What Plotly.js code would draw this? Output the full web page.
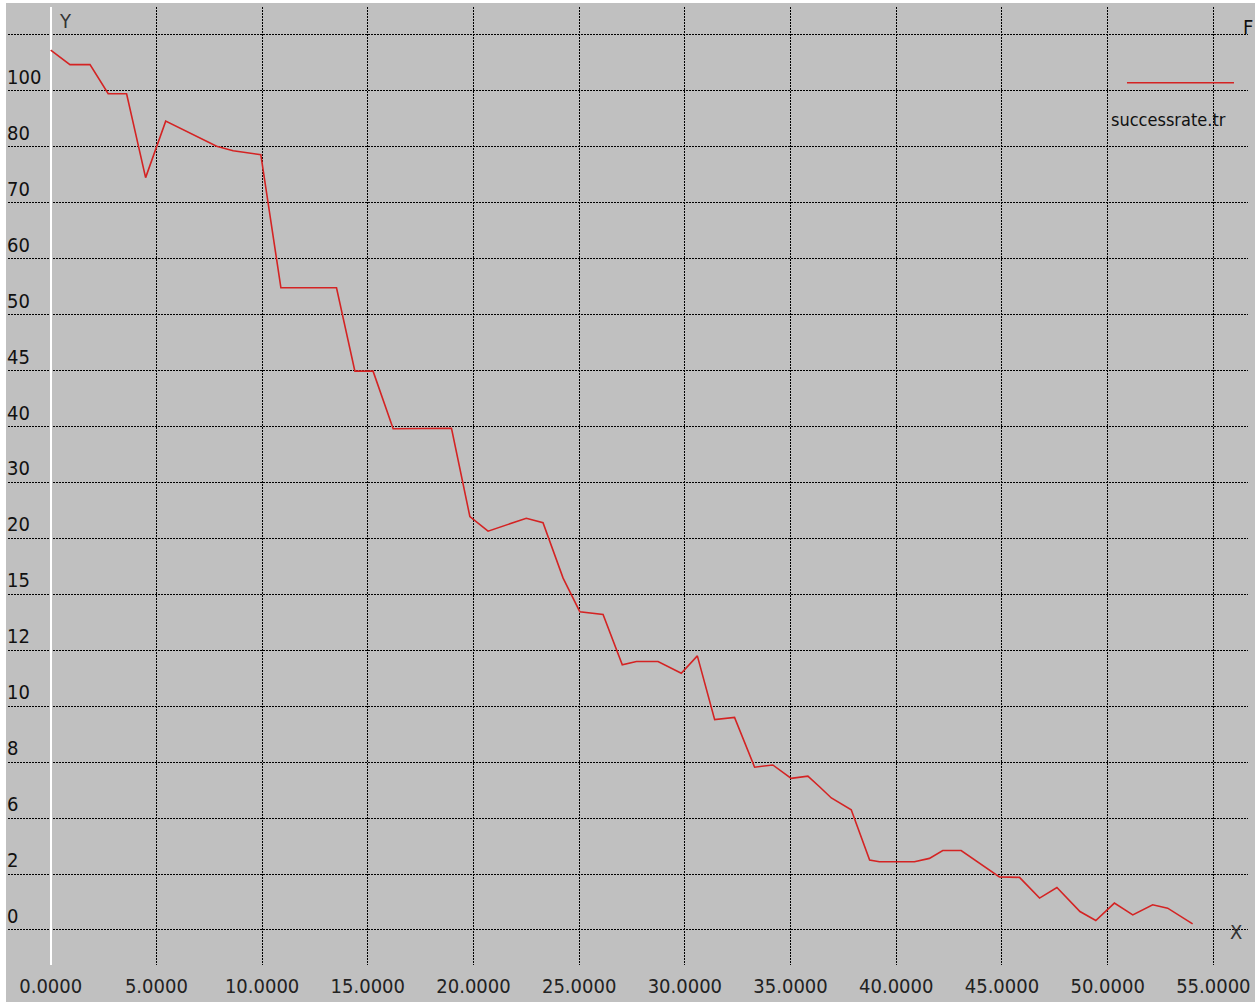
<!DOCTYPE html>
<html>
<head>
<meta charset="utf-8">
<script src="https://cdn.plot.ly/plotly-3.0.1.min.js"></script>
<style>
  html, body { margin: 0; padding: 0; background: #ffffff; }
  #wrap { padding-left: 6px; padding-top: 3px; width: 1249px; height: 999px; }
  #chart { width: 1249px; height: 999px; }
</style>
</head>
<body>
<div id="wrap"><div id="chart"></div></div>
<script>
// x positions of the samples
const xValues = [0, 0.91, 1.86, 2.72, 3.59, 4.49, 5.44, 7.85, 8.63, 9.94, 10.89, 13.52, 14.39, 15.25, 16.2, 18.96,
  19.83, 20.69, 22.5, 23.29, 24.24, 25.03, 26.13, 27.04, 27.71, 28.73, 29.83, 30.59, 31.41, 32.35, 33.3, 34.16,
  35.03, 35.82, 36.37, 36.93, 37.87, 38.74, 39.2, 40.86, 41.57, 42.2, 43.07, 44.88, 45.83, 46.78, 47.6, 48.69,
  49.44, 50.32, 51.19, 52.13, 52.84, 54.02];
// y values in grid-row units (row 0 = label "0", row 15 = label "100")
const yValues = [15.73, 15.47, 15.47, 14.95, 14.95, 13.45, 14.46, 14.01, 13.93, 13.86, 11.48, 11.48, 9.99, 9.99, 8.96, 8.97,
  7.39, 7.13, 7.36, 7.28, 6.29, 5.69, 5.64, 4.74, 4.8, 4.8, 4.59, 4.9, 3.76, 3.80, 2.91, 2.95,
  2.71, 2.75, 2.56, 2.36, 2.15, 1.25, 1.22, 1.22, 1.28, 1.42, 1.42, 0.95, 0.94, 0.57, 0.76, 0.33,
  0.17, 0.48, 0.27, 0.45, 0.39, 0.11];
const seriesName = "successrate.tr";
// y tick rows and their labels
const yTickRows = [0, 1, 2, 3, 4, 5, 6, 7, 8, 9, 10, 11, 12, 13, 14, 15, 16];
const yTickLabels = ["0", "2", "6", "8", "10", "12", "15", "20", "30", "40", "45", "50", "60", "70", "80", "100", ""];
const xAxisLabel = "X";
const yAxisLabel = "Y";

const FONT = '"Liberation Sans Narrow", "DejaVu Sans Condensed", "Arial Narrow", "DejaVu Sans", sans-serif';
const GRID = { gridcolor: "#000000", gridwidth: 1, griddash: "2px,1px", showline: false, ticks: "" };

const trace = {
  type: "scatter", mode: "lines", name: seriesName,
  x: xValues, y: yValues,
  line: { color: "#d42323", width: 1.6 },
  showlegend: false, hoverinfo: "x+y"
};

const layout = {
  width: 1249, height: 999,
  margin: { l: 2, r: 7, t: 4, b: 37, pad: 0 },
  paper_bgcolor: "#c0c0c0",
  plot_bgcolor: "#c0c0c0",
  font: { family: FONT, size: 20, color: "#111111" },
  showlegend: false,
  xaxis: Object.assign({}, GRID, {
    range: [-2.02, 56.64], tick0: 0, dtick: 5, tickformat: ".4f",
    zeroline: true, zerolinecolor: "#ffffff", zerolinewidth: 2,
    ticklabelstandoff: 7,
    tickfont: { family: FONT, size: 20, color: "#222222" }
  }),
  yaxis: Object.assign({}, GRID, {
    range: [-0.626, 16.5], tickmode: "array", tickvals: yTickRows, ticktext: yTickLabels,
    zeroline: false,
    ticklabelposition: "inside top", ticklabelstandoff: -4,
    tickfont: { family: FONT, size: 20, color: "#111111" }
  }),
  shapes: [
    { type: "line", xref: "paper", yref: "paper", x0: 0.9024, x1: 0.9887, y0: 0.921, y1: 0.921,
      line: { color: "#d42323", width: 1.6 } }
  ],
  annotations: [
    { xref: "paper", yref: "paper", x: 0.9355, y: 0.883, text: seriesName, showarrow: false,
      xanchor: "center", yanchor: "middle", font: { family: FONT, size: 18, color: "#111111" } },
    { xref: "paper", yref: "paper", x: 0.046, y: 0.9854, text: yAxisLabel, showarrow: false,
      xanchor: "center", yanchor: "middle", font: { family: FONT, size: 20, color: "#333333" } },
    { xref: "paper", yref: "paper", x: 0.9903, y: 0.0344, text: xAxisLabel, showarrow: false,
      xanchor: "center", yanchor: "middle", font: { family: FONT, size: 20, color: "#333333" } },
    { xref: "paper", yref: "paper", x: 1.0056, y: 0.979, text: "F", showarrow: false,
      xanchor: "right", yanchor: "middle", font: { family: FONT, size: 20, color: "#111111" } }
  ]
};

Plotly.newPlot("chart", [trace], layout, { displayModeBar: false, staticPlot: true });
</script>
</body>
</html>
